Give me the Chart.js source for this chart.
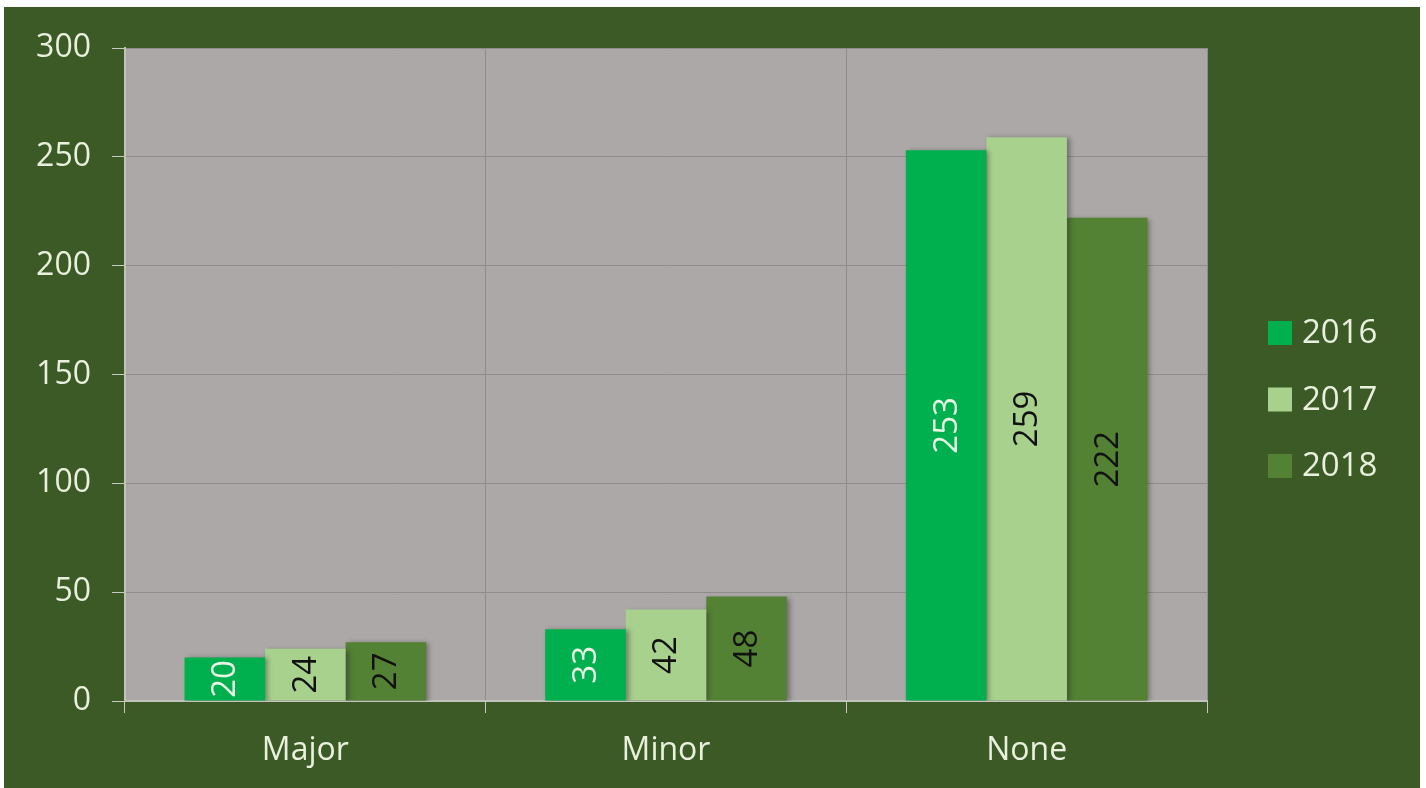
<!DOCTYPE html>
<html lang="en">
<head>
    <meta charset="UTF-8">
    <title>Incidents by severity</title>
    <script src="https://cdn.jsdelivr.net/npm/chart.js"></script>
    <style>
        html, body { margin: 0; padding: 0; background: #ffffff; }
        .frame {
            position: absolute;
            left: 4px; top: 7px;
            width: 1416px; height: 781px;
            background: #3c5a25;
        }
    </style>
</head>
<body>
    <div class="frame">
        <canvas id="severityChart"></canvas>
    </div>

    <script>
        const categories = ['Major', 'Minor', 'None'];
        const years = ['2016', '2017', '2018'];
        const values2016 = [20, 33, 253];
        const values2017 = [24, 42, 259];
        const values2018 = [27, 48, 222];
        const yTicks = [0, 50, 100, 150, 200, 250, 300];

        const barColors = ['#00b04f', '#a9d18e', '#548235'];
        const labelColors = ['#eaf6e4', '#111111', '#111111'];
        const textColor = '#e9f0de';
        const fontFamily = '"Open Sans", Lato, sans-serif';

        // gray plot background behind the bars
        const plotBackground = {
            id: 'plotBackground',
            beforeDraw(chart) {
                const { ctx, chartArea: a } = chart;
                ctx.save();
                ctx.fillStyle = '#aca8a7';
                ctx.fillRect(a.left, a.top, a.right - a.left, a.bottom - a.top);
                ctx.restore();
            }
        };

        // soft shadow to the right of each bar
        const barShadow = {
            id: 'barShadow',
            beforeDatasetDraw(chart) {
                const ctx = chart.ctx;
                ctx.save();
                ctx.shadowColor = 'rgba(40, 40, 40, 0.45)';
                ctx.shadowBlur = 5;
                ctx.shadowOffsetX = 3;
                ctx.shadowOffsetY = 1;
            },
            afterDatasetDraw(chart) {
                chart.ctx.restore();
            }
        };

        // rotated value labels centred in the bars
        const valueLabels = {
            id: 'valueLabels',
            afterDatasetsDraw(chart) {
                const ctx = chart.ctx;
                chart.data.datasets.forEach((ds, i) => {
                    const meta = chart.getDatasetMeta(i);
                    meta.data.forEach((bar, j) => {
                        const cy = (bar.y + bar.base) / 2;
                        ctx.save();
                        ctx.translate(bar.x, cy);
                        ctx.rotate(-Math.PI / 2);
                        ctx.font = '33px ' + fontFamily;
                        ctx.fillStyle = labelColors[i];
                        ctx.textAlign = 'center';
                        ctx.textBaseline = 'middle';
                        ctx.fillText(String(ds.data[j]), 0, 1);
                        ctx.restore();
                    });
                });
            }
        };

        // legend on the right with square swatches
        const sideLegend = {
            id: 'sideLegend',
            afterDraw(chart) {
                const { ctx, chartArea: a } = chart;
                const x = a.right + 61;
                const y0 = 326;
                const step = 66.5;
                ctx.save();
                ctx.font = '33px ' + fontFamily;
                ctx.textBaseline = 'middle';
                ctx.textAlign = 'left';
                chart.data.datasets.forEach((ds, i) => {
                    const y = y0 + i * step;
                    ctx.fillStyle = ds.backgroundColor;
                    ctx.fillRect(x, y - 12, 24, 24);
                    ctx.fillStyle = textColor;
                    ctx.fillText(ds.label, x + 34, y + 1);
                });
                ctx.restore();
            }
        };

        const datasets = [values2016, values2017, values2018].map((vals, i) => ({
            label: years[i],
            data: vals,
            backgroundColor: barColors[i],
            borderWidth: 0,
            barPercentage: 1.0,
            categoryPercentage: 0.67
        }));

        new Chart(document.getElementById('severityChart'), {
            type: 'bar',
            data: { labels: categories, datasets: datasets },
            options: {
                responsive: true,
                maintainAspectRatio: false,
                animation: false,
                layout: { padding: { top: 41, right: 213, left: 0, bottom: 0 } },
                plugins: {
                    legend: { display: false },
                    tooltip: { enabled: false }
                },
                scales: {
                    x: {
                        afterFit(scale) { scale.height = 87; },
                        grid: {
                            offset: true,
                            color: '#8f8d8c',
                            tickColor: '#c8c8c2',
                            tickLength: 12
                        },
                        border: { color: '#c3c3bd', width: 2 },
                        ticks: {
                            color: textColor,
                            padding: 19,
                            font: { family: fontFamily, size: 32 }
                        }
                    },
                    y: {
                        min: 0,
                        max: 300,
                        afterFit(scale) { scale.width = 121; },
                        afterBuildTicks(scale) {
                            scale.ticks = yTicks.map(v => ({ value: v }));
                        },
                        grid: {
                            color: '#8f8d8c',
                            tickColor: '#c8c8c2',
                            tickLength: 13
                        },
                        border: { color: '#c3c3bd', width: 2 },
                        ticks: {
                            color: textColor,
                            padding: 21,
                            font: { family: fontFamily, size: 32 }
                        }
                    }
                }
            },
            plugins: [plotBackground, barShadow, valueLabels, sideLegend]
        });
    </script>
</body>
</html>
